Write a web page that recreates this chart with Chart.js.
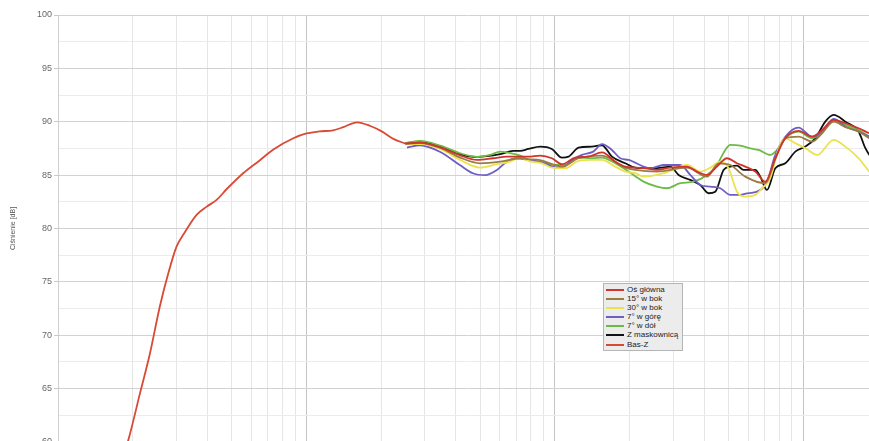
<!DOCTYPE html>
<html>
<head>
<meta charset="utf-8">
<script src="https://cdn.jsdelivr.net/npm/chart.js@4/dist/chart.umd.min.js"></script>
<style>
  html, body { margin: 0; padding: 0; background: #fff; overflow: hidden; width: 869px; height: 441px; }
  #wrap { position: absolute; left: 0; top: 0; width: 880px; height: 452px; }
  #legend { position: absolute; left: 603px; top: 283px; width: 80px; background: #ececec; border: 1px solid #b5b5b5;
    font-family: "Liberation Sans", Arial, sans-serif; font-size: 8px; color: #222; padding: 1px 0 1px 0; box-sizing: border-box; }
  #legend .it { height: 9.1px; line-height: 9.1px; white-space: nowrap; position: relative; padding-left: 23px; }
  #legend .sw { position: absolute; left: 2px; top: 4px; width: 18px; height: 2px; }
</style>
</head>
<body>
<div id="wrap"><canvas id="c" width="880" height="452" style="width:880px;height:452px"></canvas></div>
<div id="legend"></div>
<script>
// ---- data (frequency in Hz, level in dB) ----
const seriesNames = ["Oś główna", "15° w bok", "30° w bok", "7° w górę", "7° w dół", "Z maskownicą", "Bas-Z"];
const seriesColors = ["#d0342c", "#9a7b42", "#ece24e", "#6e5ec4", "#6cbb45", "#111111", "#d94a35"];

const mainFreq = [250, 287, 346, 416, 486, 565, 641, 726, 782, 874, 973, 1068, 1208, 1363, 1548, 1751, 1921, 2107, 2276, 2578, 2916, 3404, 3735, 4099, 4495, 4932, 5411, 5845, 6414, 7036, 7720, 8471, 9584, 10850, 11910, 13260, 14780, 16720, 18460, 20000];
const mainDb   = [87.95, 88.04, 87.6, 86.85, 86.42, 86.58, 86.73, 86.73, 86.73, 86.83, 86.58, 86.02, 86.64, 86.73, 87.14, 86.26, 85.8, 85.7, 85.65, 85.49, 85.7, 85.8, 85.33, 85.02, 85.8, 86.58, 86.11, 85.8, 85.33, 84.39, 86.58, 88.45, 89.14, 88.6, 89.23, 90.17, 89.86, 89.39, 88.92, 88.6];

const side15Freq = [250, 287, 346, 416, 500, 603, 726, 782, 873, 1068, 1246, 1548, 1921, 2107, 2578, 3404, 4099, 4563, 5085, 5845, 7036, 7720, 8471, 9584, 10850, 11910, 13260, 14780, 16720, 18460, 20000];
const side15Db   = [87.95, 88.0, 87.55, 86.64, 86.11, 86.26, 86.58, 86.5, 86.4, 85.8, 86.58, 86.83, 85.7, 85.49, 85.33, 85.7, 84.86, 86.11, 85.95, 84.86, 84.24, 86.5, 88.45, 88.6, 88.14, 88.92, 90.01, 89.5, 89.1, 88.45, 88.1];

const side30Freq = [250, 287, 346, 416, 500, 585, 661, 726, 782, 887, 973, 1101, 1246, 1411, 1548, 1751, 1921, 2107, 2276, 2578, 2916, 3404, 3851, 4226, 4635, 5005, 5411, 5845, 6414, 6825, 7370, 7960, 8471, 9294, 10200, 11370, 13260, 14780, 16720, 18460, 20000];
const side30Db   = [87.9, 87.9, 87.45, 86.42, 85.7, 86.02, 86.26, 86.64, 86.33, 86.11, 85.7, 85.65, 86.33, 86.42, 86.42, 85.8, 85.33, 85.18, 84.86, 85.02, 85.39, 85.95, 85.33, 85.7, 86.26, 85.65, 83.45, 82.99, 83.15, 83.77, 84.71, 87.52, 88.45, 87.99, 87.52, 86.89, 88.3, 87.67, 86.58, 85.33, 84.6];

const upFreq = [254, 287, 346, 416, 471, 525, 585, 641, 704, 782, 915, 973, 1068, 1172, 1286, 1428, 1548, 1698, 1834, 1981, 2423, 2740, 3199, 3510, 3851, 4226, 4635, 5085, 5580, 5938, 6414, 7147, 7720, 8471, 9584, 10850, 11910, 13260, 14780, 16720, 18460, 20000];
const upDb   = [87.57, 87.8, 87.17, 85.92, 85.15, 85.0, 85.49, 86.26, 86.58, 86.42, 86.11, 85.8, 85.7, 86.42, 86.89, 87.2, 87.9, 87.36, 86.58, 86.42, 85.65, 85.95, 85.95, 85.02, 84.08, 83.92, 83.77, 83.15, 83.15, 83.3, 83.4, 84.39, 86.89, 88.6, 89.45, 88.6, 89.07, 90.26, 89.55, 89.07, 88.6, 88.3];

const downFreq = [250, 287, 346, 416, 486, 549, 603, 661, 726, 782, 887, 1004, 1101, 1246, 1411, 1548, 1751, 1981, 2107, 2276, 2578, 2828, 3199, 3619, 4099, 4495, 4855, 5085, 5580, 6123, 6613, 7370, 7960, 8471, 9584, 10850, 11910, 13260, 14780, 16720, 18460, 20000];
const downDb   = [88.0, 88.2, 87.76, 87.05, 86.7, 86.9, 87.2, 87.05, 86.83, 86.42, 86.2, 85.95, 85.95, 86.64, 86.58, 86.64, 86.11, 85.33, 84.9, 84.39, 83.92, 83.77, 84.24, 84.39, 85.02, 85.95, 87.36, 87.83, 87.76, 87.5, 87.36, 86.89, 87.52, 88.45, 89.07, 88.45, 89.07, 90.07, 89.7, 89.23, 88.6, 88.3];

const grilleFreq = [250, 287, 346, 416, 486, 603, 680, 726, 782, 874, 973, 1068, 1136, 1246, 1411, 1548, 1698, 1921, 2107, 2276, 2578, 2916, 3150, 3510, 3851, 4160, 4425, 4779, 5085, 5411, 5754, 6414, 6718, 7147, 7720, 8471, 9294, 10200, 11190, 12270, 13260, 14780, 16720, 17790, 18460, 20000];
const grilleDb   = [88.0, 88.1, 87.7, 86.95, 86.7, 86.96, 87.27, 87.27, 87.45, 87.67, 87.45, 86.64, 86.73, 87.57, 87.67, 87.8, 86.73, 86.11, 85.7, 85.65, 85.65, 85.8, 85.02, 84.55, 84.08, 83.3, 83.45, 85.49, 85.8, 85.89, 85.49, 85.49, 84.86, 83.61, 85.65, 86.11, 87.2, 87.67, 88.45, 90.01, 90.64, 90.01, 89.07, 87.52, 86.9, 86.2];

const bassFreq = [17, 19.2, 21.4, 23.4, 25.7, 27.8, 30, 32.5, 36.2, 39.7, 43.6, 47.8, 55.8, 65, 73.6, 88.6, 100, 113, 128, 141, 160, 181, 201, 224, 254];
const bassDb   = [56.5, 60.2, 64.6, 68.2, 72.7, 75.8, 78.3, 79.7, 81.3, 82.05, 82.7, 83.7, 85.2, 86.4, 87.4, 88.45, 88.9, 89.1, 89.2, 89.5, 89.95, 89.6, 89.1, 88.4, 87.9];

const yTickValues = [60, 62.5, 65, 67.5, 70, 72.5, 75, 77.5, 80, 82.5, 85, 87.5, 90, 92.5, 95, 97.5, 100];
const xDecades = [10, 100, 1000, 10000];

// ---- build ----
const freqSets = [mainFreq, side15Freq, side30Freq, upFreq, downFreq, grilleFreq, bassFreq];
const dbSets = [mainDb, side15Db, side30Db, upDb, downDb, grilleDb, bassDb];

const datasets = seriesNames.map((name, i) => ({
  label: name,
  data: freqSets[i].map((f, k) => ({ x: f, y: dbSets[i][k] })),
  borderColor: seriesColors[i],
  backgroundColor: seriesColors[i],
  borderWidth: 1.8,
  pointRadius: 0,
  cubicInterpolationMode: 'monotone',
  fill: false
}));

const xTicks = [];
xDecades.forEach(d => { for (let m = 1; m <= 9; m++) xTicks.push(d * m); });
xTicks.push(20000);

new Chart(document.getElementById('c'), {
  type: 'line',
  data: { datasets },
  options: {
    responsive: false,
    animation: false,
    layout: { padding: { top: 15, right: 2, bottom: 0, left: 0 } },
    plugins: { legend: { display: false }, tooltip: { enabled: false } },
    scales: {
      x: {
        type: 'logarithmic',
        min: 10, max: 20000,
        afterBuildTicks: s => { s.ticks = xTicks.map(v => ({ value: v })); },
        afterFit: s => { s.height = 10; },
        ticks: { display: false },
        grid: {
          color: ctx => (ctx.tick && xDecades.includes(ctx.tick.value)) ? '#c4c4c4' : '#e6e6e6',
          lineWidth: 1
        },
        border: { color: '#cfcfcf' }
      },
      y: {
        min: 60, max: 100,
        afterBuildTicks: s => { s.ticks = yTickValues.map(v => ({ value: v })); },
        afterFit: s => { s.width = 58; },
        ticks: {
          callback: v => (v % 5 === 0 ? String(v) : ''),
          color: '#666',
          font: { family: '"Liberation Sans", Arial, sans-serif', size: 9 },
          padding: 2
        },
        grid: {
          color: ctx => (ctx.tick && ctx.tick.value % 5 === 0) ? '#d2d2d2' : '#ececec',
          tickLength: 4,
          tickColor: ctx => (ctx.tick && ctx.tick.value % 5 === 0) ? '#c8c8c8' : 'rgba(0,0,0,0)'
        },
        border: { color: '#cfcfcf' },
        title: {
          display: true,
          text: 'Ciśnienie [dB]',
          color: '#555',
          font: { family: '"Liberation Sans", Arial, sans-serif', size: 7 },
          padding: { top: 9, bottom: 0 }
        }
      }
    }
  }
});

// HTML legend built from the dataset list
const lg = document.getElementById('legend');
seriesNames.forEach((n, i) => {
  const it = document.createElement('div');
  it.className = 'it';
  const sw = document.createElement('span');
  sw.className = 'sw';
  sw.style.background = seriesColors[i];
  it.appendChild(sw);
  it.appendChild(document.createTextNode(n));
  lg.appendChild(it);
});
</script>
</body>
</html>
